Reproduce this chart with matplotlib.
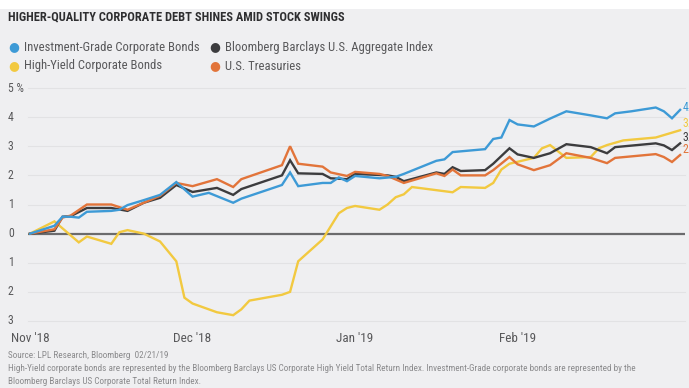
import matplotlib
matplotlib.use("Agg")
import matplotlib.pyplot as plt
from matplotlib.patches import Rectangle

# ---------------------------- data ----------------------------
title = "HIGHER-QUALITY CORPORATE DEBT SHINES AMID STOCK SWINGS"
month_ticks = [0, 20, 40, 60]
month_labels = ["Nov '18", "Dec '18", "Jan '19", "Feb '19"]
y_ticks = [5, 4, 3, 2, 1, 0, -1, -2, -3]
y_labels = ["5 %", "4", "3", "2", "1", "0", "1", "2", "3"]

ig_x = [0, 3, 4, 5, 6, 7, 10, 11, 12, 14, 16, 18, 20, 22, 25, 26, 31, 32, 33, 36, 37, 38, 39, 40,
        43, 45, 46, 50, 51, 52, 56, 57, 58, 59, 60, 62, 64, 66, 69, 71, 72, 74, 77, 78, 79, 80]
ig_y = [0, 0.27, 0.58, 0.58, 0.55, 0.75, 0.78, 0.82, 0.98, 1.15, 1.33, 1.77, 1.27, 1.4, 1.06, 1.2,
        1.67, 2.1, 1.63, 1.74, 1.74, 1.93, 1.8, 1.98, 1.9, 1.95, 2.05, 2.5, 2.55, 2.8, 2.9, 3.25,
        3.3, 3.9, 3.75, 3.68, 3.95, 4.2, 4.06, 3.96, 4.13, 4.2, 4.33, 4.2, 3.96, 4.25]

agg_x = [0, 3, 4, 5, 7, 10, 12, 14, 16, 18, 20, 23, 25, 26, 31, 32, 33, 36, 37, 39, 40, 44, 45,
         46, 50, 51, 52, 53, 56, 57, 59, 60, 62, 64, 66, 69, 71, 72, 77, 78, 79, 80]
agg_y = [0, 0.1, 0.58, 0.6, 0.88, 0.88, 0.78, 1.06, 1.23, 1.67, 1.43, 1.57, 1.33, 1.53, 2.0, 2.52,
         2.07, 2.05, 1.9, 1.87, 2.05, 2.0, 1.95, 1.8, 2.1, 2.05, 2.28, 2.15, 2.18, 2.4, 2.93, 2.72,
         2.6, 2.76, 3.07, 2.97, 2.76, 2.97, 3.1, 3.03, 2.87, 3.1]

hy_x = [0, 3, 6, 7, 10, 11, 12, 14, 16, 18, 19, 20, 23, 25, 26, 27, 31, 32, 33, 36, 38, 39, 40,
        43, 44, 45, 46, 47, 52, 53, 56, 57, 58, 59, 62, 63, 64, 66, 69, 70, 71, 73, 77, 80]
hy_y = [0, 0.42, -0.3, -0.1, -0.35, 0.05, 0.12, 0.0, -0.27, -0.95, -2.2, -2.4, -2.7, -2.8, -2.6,
        -2.3, -2.1, -2.0, -0.95, -0.2, 0.7, 0.88, 0.95, 0.82, 1.0, 1.25, 1.35, 1.6, 1.42, 1.6,
        1.57, 1.74, 2.2, 2.4, 2.6, 2.93, 3.04, 2.6, 2.63, 2.93, 3.04, 3.2, 3.3, 3.55]

tsy_x = [0, 3, 4, 5, 7, 10, 12, 14, 16, 18, 20, 23, 25, 26, 31, 32, 33, 36, 37, 39, 40, 43, 44,
         46, 50, 51, 52, 53, 56, 57, 59, 60, 62, 64, 66, 69, 71, 72, 77, 78, 79, 80]
tsy_y = [0, 0.15, 0.55, 0.62, 1.0, 1.0, 0.82, 1.06, 1.3, 1.74, 1.63, 1.87, 1.6, 1.87, 2.35, 3.0,
         2.4, 2.3, 2.1, 1.98, 2.12, 2.05, 1.98, 1.74, 2.07, 1.98, 2.2, 2.0, 2.0, 2.18, 2.63, 2.38,
         2.18, 2.35, 2.76, 2.6, 2.42, 2.6, 2.73, 2.63, 2.46, 2.7]

names = ["Investment-Grade Corporate Bonds", "High-Yield Corporate Bonds",
         "Bloomberg Barclays U.S. Aggregate Index", "U.S. Treasuries"]
colors = ["#3d9ad6", "#f2c940", "#3c3c3e", "#e2743a"]
end_offsets = [2, 5, 4, 4]   # small vertical nudges for the end labels

source = "Source: LPL Research, Bloomberg  02/21/19"
note = ("High-Yield corporate bonds are represented by the Bloomberg Barclays US Corporate High Yield "
        "Total Return Index. Investment-Grade corporate bonds are represented by the\n"
        "Bloomberg Barclays US Corporate Total Return Index.")

# ---------------------------- figure --------------------------------------------
plt.rcParams['font.family'] = ['Roboto Condensed', 'Liberation Sans Narrow', 'Lato', 'DejaVu Sans']
bg = "#efeff1"
fig = plt.figure(figsize=(6.89, 3.88), dpi=100, facecolor=bg)
fig.patches.append(Rectangle((0, 1 - 9 / 388), 1, 9 / 388, transform=fig.transFigure,
                             facecolor="white", edgecolor="none", zorder=0))

ax = fig.add_axes([28 / 689, 1 - 321 / 388, 657 / 689, (321 - 88) / 388])
ax.set_facecolor(bg)
ax.set_xlim(-0.25, 80.6)
ax.set_ylim(-3, 5)
for s in ax.spines.values():
    s.set_visible(False)
ax.set_xticks([])
ax.set_yticks([])

for v in y_ticks:
    if v == 0:
        ax.axhline(v, color="#6b6b6d", lw=1.6, zorder=1)
    else:
        ax.axhline(v, color="#e2e2e4", lw=0.8, zorder=0, clip_on=False)

series = [(ig_x, ig_y), (hy_x, hy_y), (agg_x, agg_y), (tsy_x, tsy_y)]
order = [1, 2, 3, 0]
for i in order:
    xs, ys = series[i]
    ax.plot(xs, ys, color=colors[i], lw=1.7, zorder=3, solid_joinstyle="miter")

# end-value labels (clipped by the figure edge like the original)
for i, (xs, ys) in enumerate(series):
    ax.annotate("%.1f" % ys[-1], (xs[-1], ys[-1]), xytext=(2, end_offsets[i]),
                textcoords="offset points", color=colors[i], fontsize=8.5,
                va="center", ha="left", annotation_clip=False)

# y labels on the left
tr = matplotlib.transforms.blended_transform_factory(fig.transFigure, ax.transData)
for v, lab in zip(y_ticks, y_labels):
    fig.text(8 / 689, v, lab, transform=tr, ha="left", va="center",
             fontsize=8.5, color="#58585a")

# month labels
for m, lab in zip(month_ticks, month_labels):
    ax.text(m, -3.6, lab, ha="center", va="center", fontsize=9.5, color="#58585a")

# title and legend
fig.text(8 / 689, 1 - 17 / 388, title, fontsize=8.9, fontweight="bold", color="#2e2e30",
         ha="left", va="center")
leg_pos = [(14, 47), (14, 66), (215, 47), (215, 66)]
for (px, py), name, c in zip(leg_pos, names, colors):
    fig.text(px / 689, 1 - py / 388, "\u25CF", fontsize=9, color=c, ha="center",
             va="center", family="DejaVu Sans")
    fig.text((px + 10) / 689, 1 - py / 388, name, fontsize=9.1, color="#58585a",
             ha="left", va="center")

fig.text(8 / 689, 1 - 356 / 388, source, fontsize=6.6, color="#8a8a8c", ha="left", va="center")
fig.text(8 / 689, 1 - 375 / 388, note, fontsize=6.6, color="#8a8a8c", ha="left", va="center",
         linespacing=1.45)

fig.savefig("out.png", dpi=100, facecolor=fig.get_facecolor())
